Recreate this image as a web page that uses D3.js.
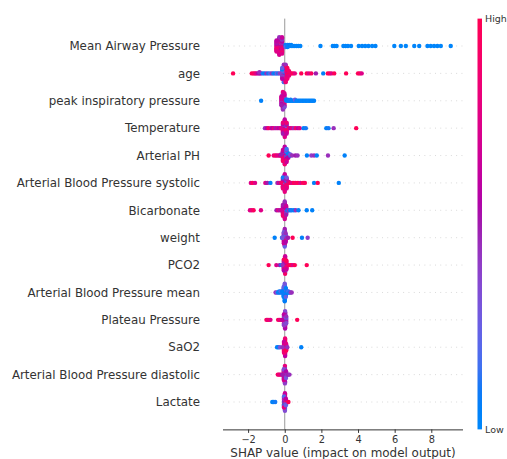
<!DOCTYPE html>
<html>
  <head>
    <meta charset="utf-8">
    <script src="https://d3js.org/d3.v7.min.js"></script>
    <style>
      body { margin: 0; background: #fff; }
      text { font-family: "DejaVu Sans", sans-serif; }
    </style>
  </head>
  <body>
    <svg width="507" height="459"></svg>
    <script>

      // feature names, top to bottom
      const features = ["Mean Airway Pressure", "age", "peak inspiratory pressure", "Temperature",
        "Arterial PH", "Arterial Blood Pressure systolic", "Bicarbonate", "weight", "PCO2",
        "Arterial Blood Pressure mean", "Plateau Pressure", "SaO2",
        "Arterial Blood Pressure diastolic", "Lactate"];

      const xTicks = [-2, 0, 2, 4, 6, 8];

      // each point: [shap value, feature value (0 = low, 1 = high)]
      const meanAirwayPressure = [
        [-0.3,.75],[-0.3,.5],[-0.3,.95],[-0.3,.6],[-0.3,.8],[-0.3,.45],[-0.3,.7],[-0.3,.9],[-0.3,.55],[-0.3,.75],[-0.3,.65],[-0.3,.5],[-0.3,.85],[-0.3,.6],[-0.3,.8],[-0.3,.45],[-0.3,.7],
        [-0.15,.6],[-0.15,.8],[-0.15,.5],[-0.15,.7],[-0.15,.95],[-0.15,.45],[-0.15,.75],[-0.15,.55],[-0.15,.85],[-0.15,.6],[-0.15,.7],[-0.15,.4],[-0.15,.9],[-0.15,.5],[-0.15,.75],[-0.15,.65],
        [-0.45,.7],[-0.45,.55],[-0.45,.85],[-0.45,.6],[-0.45,.75],[-0.45,.5],[-0.45,.9],[-0.45,.65],[-0.45,.8],[-0.45,.6],[-0.45,.75],
        [0.05,.1],[0.05,.05],[0.05,.2],[0.15,.02],[0.15,.1],[0.15,.05],[0.25,.02],[0.25,.08],[0.35,.03],[0.35,.05],
        [0.45,.02],[0.55,.04],[0.65,.02],[0.75,.03],[0.85,.02],
        [1.95,.02],[2.62,.02],[2.72,.03],[2.83,.02],[3.2,.02],[3.32,.03],[3.45,.02],[3.62,.02],[4.04,.02],[4.22,.03],
        [4.39,.02],[4.57,.02],[4.77,.02],[4.95,.03],[5.98,.02],[6.34,.02],[6.61,.02],[7.07,.02],[7.34,.03],[7.79,.02],
        [7.97,.02],[8.15,.02],[8.33,.03],[8.52,.02],[9.06,.02]
      ];
      const age = [
        [-0.05,.45],[-0.05,.3],[-0.05,.6],[-0.05,.2],[-0.05,.75],[-0.05,.4],[-0.05,.55],[-0.05,.1],[-0.05,.7],[-0.05,.35],[-0.05,.5],[-0.05,.25],[-0.05,.65],[-0.05,.3],[-0.05,.8],[-0.05,.45],[-0.05,.15],
        [0.05,.7],[0.05,.9],[0.05,.5],[0.05,.8],[0.05,.6],[0.05,.95],[0.05,.4],[0.05,.75],[0.05,.85],[0.05,.55],[0.05,.9],[0.05,.65],[0.05,.8],[0.05,.98],[0.05,.7],[0.05,.45],[0.05,.85],
        [-0.14,.2],[-0.14,.4],[-0.14,.1],[-0.14,.3],[-0.14,.5],[-0.14,.15],[-0.14,.35],[-0.14,.05],[-0.14,.45],[-0.14,.25],[-0.14,.6],
        [0.14,.9],[0.14,.8],[0.14,.95],[0.14,.7],[0.14,.85],[0.14,1],[0.14,.75],[0.14,.9],[0.14,.8],[0.14,.95],[0.14,.85],
        [0.24,.95],[0.24,.85],[0.24,1],[0.24,.9],[0.24,.8],
        [-2.82,.98],[-1.8,.98],[-1.7,.95],[-1.62,.9],[-1.55,.75],[-1.45,.55],[-1.38,.5],[-1.3,.55],[-1.38,.45],[-1.2,.1],
        [-1.1,.05],[-1.0,.45],[-0.9,.1],[-0.8,.2],[-0.7,.45],[-0.62,.1],[-0.52,.05],[-0.44,.3],[-0.36,.1],[-0.28,.4],
        [0.35,.9],[0.45,.98],[0.55,.8],[0.9,.98],[1.2,.98],[1.32,.75],[1.45,.95],[1.7,.5],[2.1,.05],[2.35,.98],
        [2.45,.95],[2.55,.75],[2.7,.98],[3.35,.98],[4.0,.98],[4.1,.95],[4.2,.75]
      ];
      const peakInspiratoryPressure = [
        [-0.1,.5],[-0.1,.7],[-0.1,.4],[-0.1,.8],[-0.1,.6],[-0.1,.3],[-0.1,.75],[-0.1,.55],[-0.1,.65],[-0.1,.45],[-0.1,.85],[-0.1,.5],[-0.1,.7],[-0.1,.35],[-0.1,.6],[-0.1,.8],[-0.1,.45],
        [-0.02,.6],[-0.02,.45],[-0.02,.8],[-0.02,.3],[-0.02,.7],[-0.02,.55],[-0.02,.9],[-0.02,.4],[-0.02,.65],[-0.02,.75],[-0.02,.5],[-0.02,.6],[-0.02,.35],[-0.02,.7],
        [-0.18,.7],[-0.18,.5],[-0.18,.8],[-0.18,.6],[-0.18,.45],[-0.18,.75],[-0.18,.55],[-0.18,.65],[-0.18,.5],
        [-1.29,.05],
        [0.08,.1],[0.08,.05],[0.16,.02],[0.16,.08],[0.24,.05],[0.32,.02],[0.32,.1],[0.4,.03],[0.48,.05],[0.56,.02],
        [0.56,.3],[0.64,.04],[0.72,.02],[0.8,.05],[0.88,.03],[0.96,.02],[1.04,.05],[1.12,.02],[1.2,.04],[1.28,.02],
        [1.36,.03],[1.44,.05],[1.52,.02],[1.6,.04]
      ];
      const temperature = [
        [0,.6],[0,.75],[0,.45],[0,.9],[0,.55],[0,.7],[0,.1],[0,.8],[0,.5],[0,.65],[0,.95],[0,.4],[0,.7],[0,.85],[0,.5],[0,.6],[0,.75],
        [-0.1,.7],[-0.1,.5],[-0.1,.85],[-0.1,.6],[-0.1,.75],[-0.1,.45],[-0.1,.9],[-0.1,.55],[-0.1,.65],[-0.1,.8],[-0.1,.5],
        [0.1,.8],[0.1,.55],[0.1,.9],[0.1,.3],[0.1,.75],[0.1,.6],[0.1,.95],[0.1,.5],[0.1,.7],[0.1,.85],[0.1,.65],
        [-1.08,.45],[-0.97,.6],[-0.88,.9],[-0.75,.75],[-0.68,.55],[-0.6,.8],[-0.5,.5],[-0.4,.7],[-0.3,.55],[-0.22,.75],
        [0.22,.95],[0.3,.6],[0.4,.8],[0.5,.45],[0.6,.9],[0.72,.6],[0.82,.75],
        [1.03,.05],[1.15,.1],[2.27,.05],[2.39,.1],[2.67,.45],[3.9,.98]
      ];
      const arterialPH = [
        [0,.6],[0,.05],[0,.75],[0,.45],[0,.9],[0,.2],[0,.55],[0,.7],[0,.1],[0,.8],[0,.5],[0,.65],[0,.35],[0,.75],[0,.15],[0,.6],[0,.85],
        [-0.1,.75],[-0.1,.5],[-0.1,.85],[-0.1,.6],[-0.1,.7],[-0.1,.45],[-0.1,.95],[-0.1,.55],[-0.1,.8],[-0.1,.65],[-0.1,.9],
        [0.1,.3],[0.1,.6],[0.1,.05],[0.1,.75],[0.1,.45],[0.1,.1],[0.1,.55],[0.1,.2],[0.1,.7],[0.1,.4],[0.1,.9],[0.1,.15],[0.1,.65],
        [0.2,.1],[0.2,.05],[0.2,.5],[0.2,.02],[0.2,.6],
        [-0.88,.98],[-0.6,.8],[-0.5,.95],[-0.42,.75],[-0.32,.8],[-0.25,.6],[-0.2,.9],[-0.2,.5],
        [0.3,.05],[0.3,.3],[0.4,.45],[0.58,.5],[0.7,.45],[1.21,.05],[1.45,.4],[1.6,.45],[1.75,.05],[2.36,.45],[3.27,.05]
      ];
      const abpSystolic = [
        [0,.45],[0,.9],[0,.1],[0,.7],[0,.55],[0,.95],[0,.3],[0,.75],[0,.5],[0,.05],[0,.85],[0,.6],[0,.4],[0,.98],[0,.2],[0,.65],[0,.8],
        [-0.1,.6],[-0.1,.9],[-0.1,.4],[-0.1,.75],[-0.1,.2],[-0.1,.55],[-0.1,.95],[-0.1,.5],[-0.1,.7],[-0.1,.1],[-0.1,.85],
        [0.1,.8],[0.1,.5],[0.1,.95],[0.1,.1],[0.1,.7],[0.1,.45],[0.1,.9],[0.1,.6],[0.1,.85],[0.1,.3],[0.1,.75],
        [-1.85,.75],[-1.75,.95],[-1.62,.75],[-1.06,.75],[-0.95,.5],[-0.78,.05],[-0.4,.45],[-0.32,.75],[-0.25,.5],[-0.2,.9],
        [0.2,.95],[0.22,.7],[0.3,.98],[0.4,.75],[0.5,.98],[0.6,.9],[0.72,.98],[0.85,.75],[1.0,.98],[1.1,.95],
        [1.6,.05],[1.8,.98],[2.95,.05]
      ];
      const bicarbonate = [
        [0,.6],[0,.45],[0,.75],[0,.5],[0,.7],[0,.3],[0,.8],[0,.55],[0,.65],[0,.4],[0,.9],[0,.5],[0,.7],[0,.6],[0,.85],[0,.45],[0,.7],
        [-0.1,.7],[-0.1,.5],[-0.1,.8],[-0.1,.45],[-0.1,.65],[-0.1,.55],[-0.1,.9],[-0.1,.6],[-0.1,.75],[-0.1,.5],[-0.1,.85],
        [0.08,.45],[0.08,.6],[0.08,.3],[0.08,.7],[0.08,.5],[0.08,.55],[0.08,.4],[0.08,.65],[0.08,.5],
        [-1.9,.75],[-1.8,.8],[-1.7,.95],[-1.3,.75],[-0.45,.5],[-0.35,.75],[-0.25,.5],[-0.18,.7],
        [0.15,.05],[0.22,.45],[0.3,.05],[0.38,.1],[0.5,.05],[0.6,.45],[0.75,.05],[1.2,.05],[1.5,.05]
      ];
      const weight = [
        [0,.45],[0,.3],[0,.7],[0,.5],[0,.2],[0,.6],[0,.4],[0,.75],[0,.35],[0,.55],[0,.1],[0,.65],[0,.45],[0,.3],[0,.8],[0,.5],[0,.25],
        [-0.05,.4],[-0.05,.6],[-0.05,.25],[-0.05,.7],[-0.05,.5],[-0.05,.35],[-0.05,.8],[-0.05,.45],[-0.05,.55],[-0.05,.3],[-0.05,.65],
        [0.05,.5],[0.05,.3],[0.05,.75],[0.05,.4],[0.05,.6],[0.05,.2],[0.05,.9],[0.05,.45],[0.05,.55],
        [-0.55,.05],[-0.15,.1],[-0.12,.3],[0.12,.45],[0.18,.5],[0.43,.98],[0.94,.05],[1.25,.4]
      ];
      const pco2 = [
        [0.02,.75],[0.02,.5],[0.02,.95],[0.02,.1],[0.02,.7],[0.02,.6],[0.02,.9],[0.02,.3],[0.02,.8],[0.02,.55],[0.02,.98],[0.02,.45],[0.02,.7],[0.02,.85],[0.02,.2],[0.02,.65],[0.02,.9],
        [-0.05,.6],[-0.05,.85],[-0.05,.4],[-0.05,.75],[-0.05,.05],[-0.05,.65],[-0.05,.9],[-0.05,.5],[-0.05,.7],[-0.05,.95],[-0.05,.55],
        [0.09,.9],[0.09,.7],[0.09,.95],[0.09,.6],[0.09,.85],[0.09,.8],[0.09,.75],[0.09,.98],[0.09,.65],
        [-0.88,.98],[-0.46,.75],[-0.28,.5],[-0.18,.05],[-0.12,.45],
        [0.2,.95],[0.3,.98],[0.38,.95],[0.45,.75],[0.55,.98],[1.2,.98]
      ];
      const abpMean = [
        [0,.05],[0,.1],[0,.2],[0,.02],[0,.3],[0,.05],[0,.15],[0,.4],[0,.08],[0,.02],[0,.25],[0,.1],[0,.05],[0,.15],[0,.02],[0,.3],[0,.08],
        [-0.06,.1],[-0.06,.3],[-0.06,.05],[-0.06,.2],[-0.06,.02],[-0.06,.4],[-0.06,.1],[-0.06,.15],[-0.06,.05],[-0.06,.25],
        [0.06,.05],[0.06,.2],[0.06,.1],[0.06,.35],[0.06,.02],[0.06,.15],[0.06,.08],[0.06,.05],[0.06,.25],
        [-0.5,.45],[-0.43,.3],[-0.36,.05],[-0.3,.1],[-0.3,.02],[-0.22,.05],[-0.22,.2],[-0.14,.1],[-0.14,.05],
        [0.13,.05],[0.13,.1],[0.2,.02],[0.2,.2],[0.26,.05],[0.32,.4],[0.38,.45]
      ];
      const plateauPressure = [
        [0.02,.45],[0.02,.3],[0.02,.6],[0.02,.2],[0.02,.5],[0.02,.75],[0.02,.35],[0.02,.4],[0.02,.55],[0.02,.25],[0.02,.65],[0.02,.45],[0.02,.3],[0.02,.5],[0.02,.7],[0.02,.35],[0.02,.55],
        [-0.04,.5],[-0.04,.35],[-0.04,.7],[-0.04,.25],[-0.04,.55],[-0.04,.4],[-0.04,.8],[-0.04,.45],[-0.04,.3],[-0.04,.6],[-0.04,.4],
        [0.08,.4],[0.08,.3],[0.08,.55],[0.08,.2],[0.08,.5],[0.08,.45],[0.08,.35],
        [-1.0,.98],[-0.93,.75],[-0.86,.95],[-0.78,.75],[-0.36,.98],[-0.28,.75],[-0.2,.9],[-0.14,.6],[0.68,.98]
      ];
      const sao2 = [
        [0.02,.8],[0.02,.95],[0.02,.7],[0.02,.9],[0.02,.6],[0.02,.98],[0.02,.75],[0.02,.85],[0.02,.65],[0.02,.95],[0.02,.8],[0.02,.9],[0.02,.7],[0.02,.98],[0.02,.75],[0.02,.85],[0.02,.6],
        [-0.04,.9],[-0.04,.75],[-0.04,.95],[-0.04,.6],[-0.04,.85],[-0.04,.8],[-0.04,.98],[-0.04,.7],[-0.04,.9],[-0.04,.65],[-0.04,.85],
        [0.08,.85],[0.08,.7],[0.08,.95],[0.08,.6],[0.08,.9],[0.08,.75],[0.08,.98],
        [-0.42,.05],[-0.34,.05],[-0.26,.3],[-0.12,.45],[0.14,.45],[0.9,.05]
      ];
      const abpDiastolic = [
        [0.01,.45],[0.01,.7],[0.01,.3],[0.01,.55],[0.01,.85],[0.01,.4],[0.01,.6],[0.01,.2],[0.01,.5],[0.01,.75],[0.01,.35],[0.01,.65],[0.01,.45],[0.01,.25],[0.01,.55],[0.01,.8],[0.01,.4],
        [-0.05,.6],[-0.05,.4],[-0.05,.75],[-0.05,.3],[-0.05,.55],[-0.05,.9],[-0.05,.5],[-0.05,.45],[-0.05,.65],[-0.05,.35],[-0.05,.7],
        [0.07,.5],[0.07,.35],[0.07,.6],[0.07,.45],[0.07,.4],[0.07,.55],[0.07,.3],
        [-0.38,.98],[-0.32,.75],[-0.26,.9],[-0.18,.7],[-0.12,.5],[0.14,.45],[0.2,.5],[0.26,.45]
      ];
      const lactate = [
        [0.01,.45],[0.01,.05],[0.01,.75],[0.01,.3],[0.01,.95],[0.01,.5],[0.01,.1],[0.01,.6],[0.01,.4],[0.01,.85],[0.01,.2],[0.01,.55],[0.01,.45],[0.01,.9],[0.01,.15],[0.01,.65],[0.01,.35],
        [-0.04,.3],[-0.04,.6],[-0.04,.1],[-0.04,.5],[-0.04,.9],[-0.04,.4],[-0.04,.05],[-0.04,.7],[-0.04,.45],[-0.04,.2],[-0.04,.8],
        [0.06,.5],[0.06,.8],[0.06,.35],[0.06,.95],[0.06,.45],[0.06,.6],[0.06,.25],
        [-0.68,.05],[-0.6,.05],[-0.52,.1],[0.2,.98]
      ];

      const points = [meanAirwayPressure, age, peakInspiratoryPressure, temperature, arterialPH,
        abpSystolic, bicarbonate, weight, pco2, abpMean, plateauPressure, sao2, abpDiastolic, lactate];

      const svg = d3.select("svg");

      const xScale = d3.scaleLinear().domain([-3.37, 9.73]).range([223, 463]);
      const yScale = d3.scalePoint().domain(features).range([46, 402]);
      const rowStep = yScale.step();
      const plotTop = 46 - rowStep, plotBottom = 402 + rowStep;

      // red-blue colour map (blue low, red high), interpolated in LCh
      const colour = t => {
        const l = t < 0.5 ? 54 - 28 * t : 40 + 28 * (t - 0.5);
        return d3.hcl(266.9 + 113.4 * t, 70 + 20 * t, l).formatHex();
      };

      // dotted row lines
      svg.append("g").selectAll("line")
        .data(features)
        .join("line")
        .attr("x1", 223).attr("x2", 463)
        .attr("y1", d => yScale(d)).attr("y2", d => yScale(d))
        .attr("stroke", "#cccccc").attr("stroke-width", 0.8)
        .attr("stroke-dasharray", "0.9 4.4");

      // zero line
      svg.append("line")
        .attr("x1", xScale(0)).attr("x2", xScale(0))
        .attr("y1", plotTop).attr("y2", plotBottom)
        .attr("stroke", "#999999").attr("stroke-width", 1);

      // beeswarm layout as in shap summary plot
      const swarm = (pts) => {
        const vals = pts.map(p => p[0]);
        const lo = d3.min(vals), hi = d3.max(vals);
        const quant = vals.map(v => Math.round(100 * (v - lo) / (hi - lo + 1e-8)));
        const inds = d3.range(pts.length).sort((a, b) => quant[a] - quant[b] || a - b);
        const ys = new Array(pts.length).fill(0);
        let layer = 0, last = -1;
        inds.forEach(i => {
          if (quant[i] !== last) layer = 0;
          ys[i] = Math.ceil(layer / 2) * ((layer % 2) * 2 - 1);
          layer++;
          last = quant[i];
        });
        const k = 0.9 * 0.4 / (d3.max(ys) + 1);
        return ys.map(y => y * k);
      };

      features.forEach((f, i) => {
        const pts = points[i];
        const offs = swarm(pts);
        svg.append("g").selectAll("circle")
          .data(pts)
          .join("circle")
          .attr("cx", d => xScale(d[0]))
          .attr("cy", (d, j) => yScale(f) - offs[j] * rowStep)
          .attr("r", 2.2)
          .attr("fill", d => colour(d[1]));
      });

      // feature labels
      svg.append("g").selectAll("text")
        .data(features)
        .join("text")
        .attr("x", 200)
        .attr("y", d => yScale(d) + 4.2)
        .attr("text-anchor", "end")
        .attr("font-size", "11.85px")
        .attr("fill", "#333333")
        .text(d => d);

      // x axis
      const xAxis = svg.append("g")
        .attr("transform", `translate(0, ${plotBottom})`)
        .call(d3.axisBottom(xScale).tickValues(xTicks).tickSize(3.5).tickPadding(3));
      xAxis.select(".domain").attr("stroke", "#333333").attr("d", "M223,0.5H463");
      xAxis.selectAll(".tick line").attr("stroke", "#333333");
      xAxis.selectAll(".tick text")
        .attr("fill", "#333333")
        .style("font-family", "DejaVu Sans")
        .style("font-size", "9.8px");

      svg.append("text")
        .attr("x", (223 + 463) / 2)
        .attr("y", 456.5)
        .attr("text-anchor", "middle")
        .attr("font-size", "11.95px")
        .attr("fill", "#333333")
        .text("SHAP value (impact on model output)");

      // colour bar
      const grad = svg.append("defs").append("linearGradient")
        .attr("id", "cbar").attr("x1", 0).attr("x2", 0).attr("y1", 1).attr("y2", 0);
      grad.selectAll("stop")
        .data(d3.range(0, 1.0001, 0.05))
        .join("stop")
        .attr("offset", d => d)
        .attr("stop-color", d => colour(d));

      svg.append("rect")
        .attr("x", 477.5).attr("y", plotTop)
        .attr("width", 4.5).attr("height", plotBottom - plotTop)
        .attr("fill", "url(#cbar)");

      svg.append("text")
        .attr("x", 485).attr("y", plotTop + 3.5)
        .attr("font-size", "9.5px").attr("fill", "#333333")
        .text("High");
      svg.append("text")
        .attr("x", 485).attr("y", plotBottom + 3.5)
        .attr("font-size", "9.5px").attr("fill", "#333333")
        .text("Low");

    </script>
  </body>
</html>
